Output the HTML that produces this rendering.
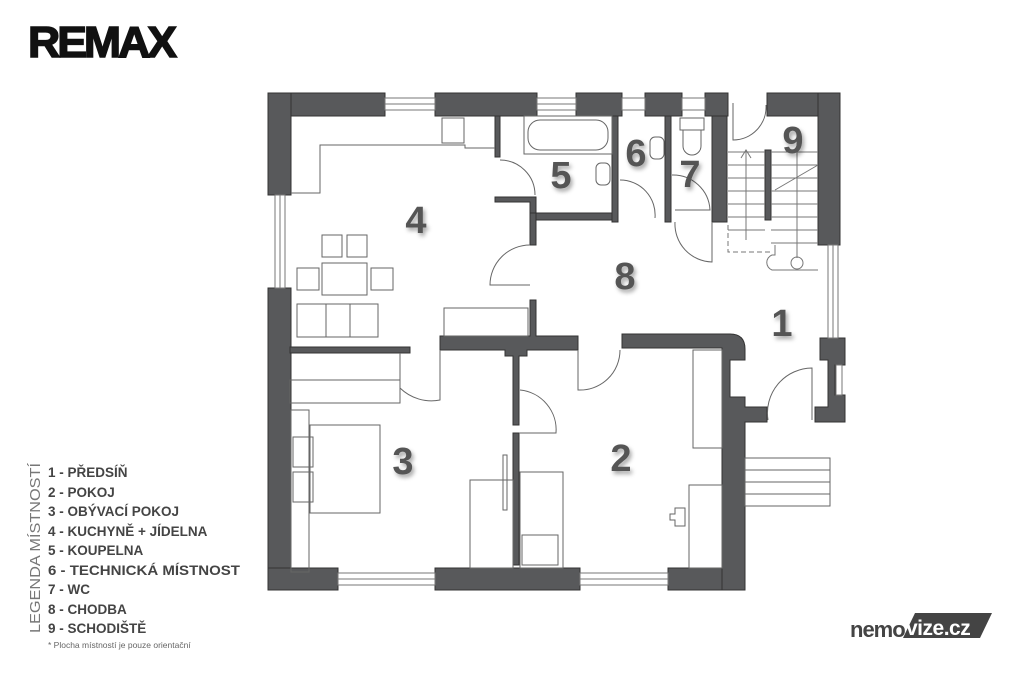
<!DOCTYPE html>
<html><head><meta charset="utf-8"><style>
html,body{margin:0;padding:0;background:#fff;}
body{width:1024px;height:682px;overflow:hidden;position:relative;font-family:"Liberation Sans",sans-serif;}
</style></head><body>
<svg width="1024" height="682" viewBox="0 0 1024 682" xmlns="http://www.w3.org/2000/svg">
<defs>
<filter id="sh" x="-20%" y="-20%" width="150%" height="150%"><feDropShadow dx="2" dy="3" stdDeviation="2" flood-color="#000" flood-opacity="0.35"/></filter>
</defs>
<!-- Logo -->
<text x="28" y="57" font-family="Liberation Sans" font-weight="bold" font-size="44" fill="#111" stroke="#111" stroke-width="1.5" letter-spacing="-3" textLength="146" lengthAdjust="spacingAndGlyphs">REMAX</text>

<g fill="#58595b" stroke="#333" stroke-width="1">
<rect x="268" y="93" width="117" height="23"/>
<rect x="435" y="93" width="102" height="23"/>
<rect x="576" y="93" width="46" height="23"/>
<rect x="645" y="93" width="37" height="23"/>
<rect x="705" y="93" width="23" height="23"/>
<rect x="767" y="93" width="73" height="23"/>
<rect x="268" y="93" width="23" height="102"/>
<rect x="268" y="288" width="23" height="302"/>
<rect x="268" y="568" width="70" height="22"/>
<rect x="435" y="568" width="145" height="22"/>
<rect x="668" y="568" width="77" height="22"/>
<rect x="818" y="93" width="22" height="152"/>
<path d="M622 334 H730 Q745 334 745 349 V360 H730 V397 H745 V407 H767 V422 H745 V590 H722 V348 H622 Z"/>
<path d="M820 338 H845 V365 H835 V395 H845 V422 H815 V407 H828 V360 H820 Z"/>
<rect x="290" y="347" width="120" height="6"/>
<path d="M440 336 H530 V300 H536 V336 H578 V350 H527 V356 H519 V425 H513 V356 H505 V350 H440 Z"/>
<rect x="513" y="433" width="6" height="132"/>
<rect x="495" y="116" width="5" height="41"/>
<path d="M495 197 H536 V213 H618 V220 H530 V202 H495 Z"/>
<rect x="530" y="213" width="6" height="32"/>
<rect x="612" y="116" width="6" height="106"/>
<rect x="665" y="116" width="6" height="106"/>
<rect x="712" y="116" width="15" height="106"/>
<rect x="765" y="150" width="6" height="70"/>
</g>
<g fill="none" stroke="#777" stroke-width="1">
<rect x="385" y="98" width="50" height="12"/><line x1="385" y1="104" x2="435" y2="104"/>
<rect x="537" y="98" width="39" height="12"/><line x1="537" y1="104" x2="576" y2="104"/>
<rect x="622" y="98" width="23" height="12"/>
<rect x="682" y="98" width="23" height="12"/>
<rect x="275" y="195" width="10" height="93"/><line x1="280" y1="195" x2="280" y2="288"/>
<rect x="338" y="573" width="97" height="12"/><line x1="338" y1="579" x2="435" y2="579"/>
<rect x="580" y="573" width="88" height="12"/><line x1="580" y1="579" x2="668" y2="579"/>
<rect x="828" y="245" width="10" height="93"/><line x1="833" y1="245" x2="833" y2="338"/>
<rect x="836" y="365" width="6" height="30"/>
</g>
<g fill="none" stroke="#666" stroke-width="1">
<path d="M291 193 H320 V145 H465 V148 H495"/>
<rect x="442" y="118" width="22" height="25"/>
<rect x="322" y="235" width="20" height="22"/><rect x="347" y="235" width="20" height="22"/>
<rect x="322" y="263" width="45" height="32"/>
<rect x="297" y="268" width="22" height="22"/><rect x="371" y="268" width="22" height="22"/>
<rect x="297" y="304" width="81" height="33"/><line x1="326" y1="304" x2="326" y2="337"/><line x1="350" y1="304" x2="350" y2="337"/>
<rect x="444" y="308" width="84" height="28"/>
<path d="M500 160 A35 35 0 0 1 535 195"/>
<path d="M530 245 A40 40 0 0 0 490 285 H530"/>
<path d="M440 350 V400 A45 45 0 0 1 400 388 V353"/>
<path d="M520 390 A40 40 0 0 1 556 433 H519"/>
<path d="M578 350 V390 A40 40 0 0 0 620 350"/>
<path d="M620 180 A35 35 0 0 1 655 218"/>
<path d="M672 175 A37 37 0 0 1 710 210 H675"/>
<path d="M712 222 V262 A38 38 0 0 1 675 222"/>
<path d="M733 103 V140 A33 33 0 0 0 766 105"/>
<path d="M768 420 A45 45 0 0 1 812 368 V420"/>
<rect x="524" y="116" width="88" height="38"/>
<rect x="528" y="120" width="80" height="30" rx="12"/>
<rect x="596" y="163" width="14" height="22" rx="5"/>
<rect x="650" y="137" width="14" height="22" rx="5"/>
<rect x="680" y="118" width="24" height="12"/>
<path d="M683 130 V146 A9 9 0 0 0 701 146 V130"/>
<rect x="290" y="380" width="110" height="23"/>
<rect x="291" y="410" width="18" height="162"/>
<rect x="293" y="437" width="20" height="30"/><rect x="293" y="472" width="20" height="30"/>
<rect x="310" y="425" width="70" height="88"/>
<rect x="470" y="480" width="43" height="88"/>
<rect x="503" y="455" width="4" height="55"/>
<rect x="520" y="472" width="43" height="96"/>
<rect x="522" y="535" width="36" height="30"/>
<rect x="693" y="350" width="29" height="98"/>
<rect x="689" y="485" width="33" height="83"/>
<path d="M685 508 H675 V514 H670 V520 H675 V526 H685 Z"/>
<rect x="745" y="458" width="85" height="48"/>
<line x1="745" y1="470" x2="830" y2="470"/><line x1="745" y1="482" x2="830" y2="482"/><line x1="745" y1="494" x2="830" y2="494"/>
</g>
<g fill="none" stroke="#777" stroke-width="1">
<path d="M728 152 H765 M728 165 H765 M728 178 H765 M728 191 H765 M728 204 H765 M728 217 H765 M728 230 H765"/>
<path d="M771 152 H818 M771 165 H818 M771 178 H818 M771 191 H818 M771 204 H818 M771 217 H818 M771 230 H818 M771 243 H818"/>
<line x1="746" y1="150" x2="746" y2="240"/>
<path d="M741 158 L746 150 L751 158"/>
<line x1="797" y1="140" x2="797" y2="258"/>
<line x1="775" y1="190" x2="818" y2="165"/>
<circle cx="797" cy="263" r="6"/>
<path d="M775 245 V255 H772 A8 8 0 0 0 772 270 H818"/>
<path d="M728 225 V252 H770" stroke-dasharray="5 3"/>
</g>
<g font-family="Liberation Sans" font-weight="bold" font-size="38" fill="#555" text-anchor="middle" filter="url(#sh)">
<text x="416" y="233">4</text>
<text x="561" y="188">5</text>
<text x="636" y="166">6</text>
<text x="690" y="187">7</text>
<text x="793" y="153">9</text>
<text x="625" y="289">8</text>
<text x="782" y="336">1</text>
<text x="403" y="474">3</text>
<text x="621" y="471">2</text>
</g>
<text transform="translate(40,633) rotate(-90)" font-family="Liberation Sans" font-size="14.5" fill="#777" textLength="170" lengthAdjust="spacingAndGlyphs">LEGENDA MÍSTNOSTÍ</text>
<g font-family="Liberation Sans" font-weight="bold" font-size="13.5" fill="#444">
<text x="48" y="477">1 - PŘEDSÍŇ</text>
<text x="48" y="497">2 - POKOJ</text>
<text x="48" y="516">3 - OBÝVACÍ POKOJ</text>
<text x="48" y="536">4 - KUCHYNĚ + JÍDELNA</text>
<text x="48" y="555">5 - KOUPELNA</text>
<text x="48" y="575" textLength="192" lengthAdjust="spacingAndGlyphs">6 - TECHNICKÁ MÍSTNOST</text>
<text x="48" y="594">7 - WC</text>
<text x="48" y="614">8 - CHODBA</text>
<text x="48" y="633">9 - SCHODIŠTĚ</text>
</g>
<text x="48" y="648" font-family="Liberation Sans" font-size="8.5" fill="#666">* Plocha místností je pouze orientační</text>
<path d="M915 613 H992 L980 638 H903 Z" fill="#444"/>
<text x="850" y="637" font-family="Liberation Sans" font-weight="bold" font-size="22" fill="#444" letter-spacing="-1">nemo</text>
<text x="906" y="635" font-family="Liberation Sans" font-weight="bold" font-size="21" fill="#fff" letter-spacing="-0.5">vize.cz</text>
</svg>
</body></html>
